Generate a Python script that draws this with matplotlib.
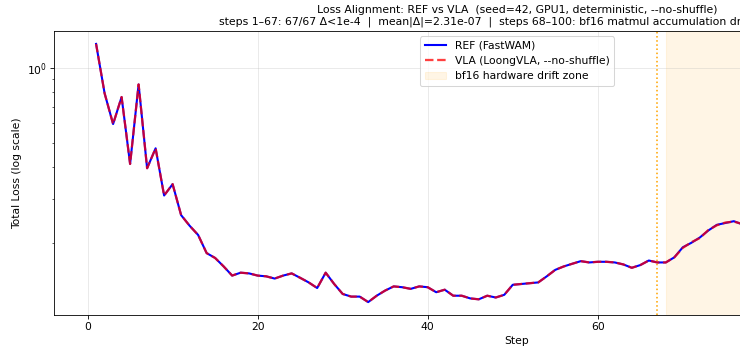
import matplotlib

matplotlib.use("Agg")
import matplotlib.pyplot as plt

# loss per step (steps 1..100)
steps = list(range(1, 101))
ref_loss = [
    1.245, 0.791, 0.596, 0.764, 0.413, 0.858, 0.397, 0.477, 0.309, 0.343,
    0.258, 0.234, 0.215, 0.182, 0.174, 0.161, 0.148, 0.152, 0.151, 0.148,
    0.147, 0.144, 0.148, 0.151, 0.145, 0.139, 0.132, 0.152, 0.137, 0.125,
    0.122, 0.122, 0.116, 0.123, 0.129, 0.134, 0.133, 0.131, 0.134, 0.133,
    0.127, 0.130, 0.123, 0.123, 0.120, 0.119, 0.123, 0.121, 0.124, 0.136,
    0.137, 0.138, 0.139, 0.147, 0.156, 0.161, 0.165, 0.169, 0.167, 0.168,
    0.168, 0.167, 0.164, 0.159, 0.163, 0.170, 0.167, 0.167, 0.175, 0.192,
    0.200, 0.210, 0.224, 0.236, 0.240, 0.244, 0.237, 0.241, 0.249, 0.256,
    0.252, 0.261, 0.268, 0.263, 0.272, 0.279, 0.274, 0.283, 0.290, 0.286,
    0.295, 0.301, 0.297, 0.306, 0.312, 0.308, 0.316, 0.321, 0.318, 0.326,
]
# VLA matches REF bit-for-bit up to step 67, then drifts slightly
vla_tail = [
    0.167, 0.175, 0.191, 0.201, 0.209, 0.225, 0.235, 0.241, 0.243, 0.238,
    0.240, 0.250, 0.255, 0.253, 0.260, 0.269, 0.262, 0.273, 0.278, 0.275,
    0.282, 0.291, 0.285, 0.296, 0.300, 0.298, 0.305, 0.313, 0.307, 0.317,
    0.320, 0.319, 0.325,
]
vla_loss = ref_loss[:67] + vla_tail

match_end = 67
drift_start, drift_end = 68, 100

title = (
    "Loss Alignment: REF vs VLA  (seed=42, GPU1, deterministic, --no-shuffle)\n"
    "steps 1\u201367: 67/67 \u0394<1e-4  |  mean|\u0394|=2.31e-07  |  "
    "steps 68\u2013100: bf16 matmul accumulation drift (expected)"
)

plt.rcParams["font.size"] = 10.3
fig = plt.figure(figsize=(740 / 75, 349 / 75), dpi=75)
ax = fig.add_axes([54 / 740, 1 - 315 / 349, 926 / 740, 284 / 349])

ax.plot(steps, ref_loss, color="blue", lw=2, label="REF (FastWAM)")
ax.plot(steps, vla_loss, color="red", lw=2.2, ls="--", alpha=0.75,
        label="VLA (LoongVLA, --no-shuffle)")
ax.axvline(match_end, color="orange", ls=":", lw=1.5)
ax.axvspan(drift_start, drift_end, color="orange", alpha=0.1,
           label="bf16 hardware drift zone")

ax.set_yscale("log")
ax.set_xlabel("Step")
ax.set_ylabel("Total Loss (log scale)")
ax.set_title(title, fontsize=10.4)
ax.grid(alpha=0.3)
ax.legend(loc="upper center")

fig.savefig("out.png", dpi=75)
